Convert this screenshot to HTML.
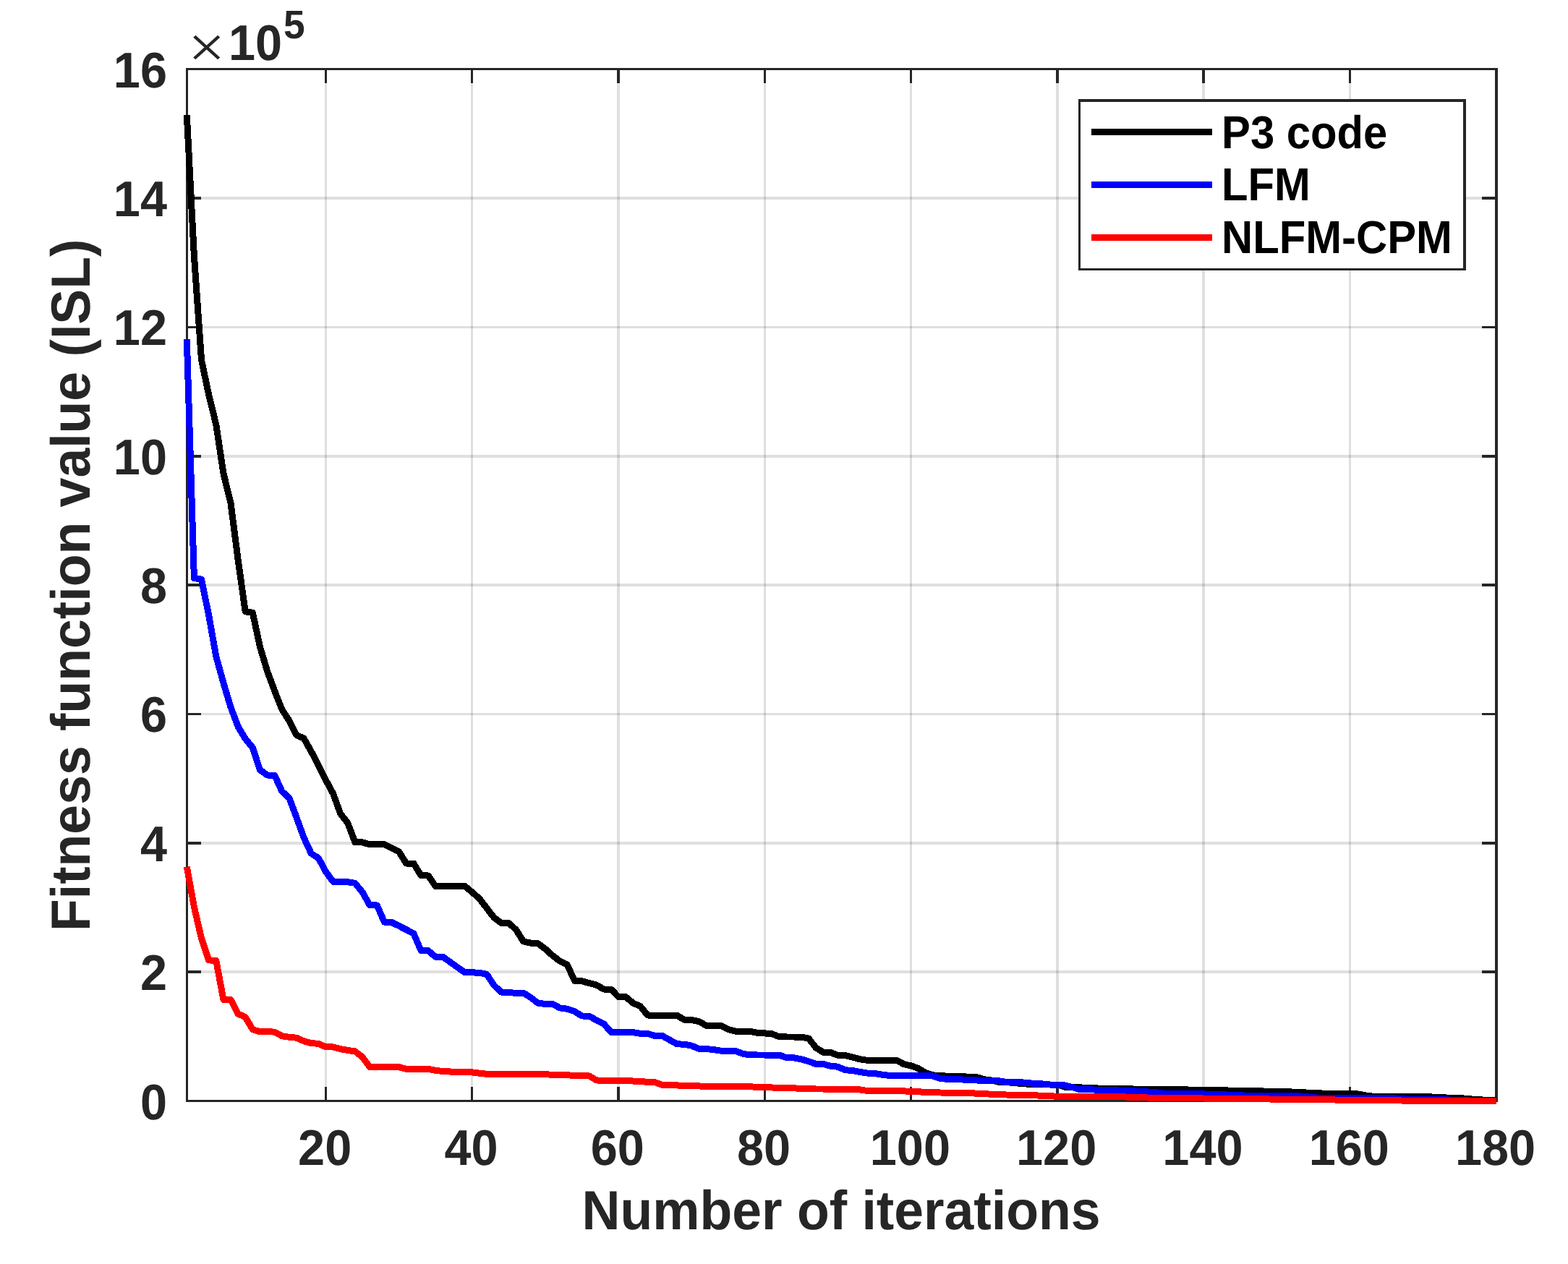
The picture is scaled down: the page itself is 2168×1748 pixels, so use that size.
<!DOCTYPE html>
<html lang="en">
<head>
<meta charset="utf-8">
<title>Fitness function value (ISL) vs number of iterations</title>
<style>
html,body{margin:0;padding:0;background:#fff;}
body{width:2168px;height:1748px;overflow:hidden;}
svg{display:block;}
text{font-family:"Liberation Sans", Arial, Helvetica, sans-serif;font-weight:bold;fill:#262626;text-rendering:geometricPrecision;}
.tk{font-size:66.67px;}
.lb{font-size:73.33px;}
.lg{font-size:59.8px;fill:#000;}
</style>
</head>
<body>
<svg width="2168" height="1748" viewBox="0 0 2168 1748" role="img" aria-label="Fitness function value (ISL) versus number of iterations for P3 code, LFM and NLFM-CPM">
<rect x="0" y="0" width="2168" height="1748" fill="#fff"/>
<g fill="#262626" fill-opacity="0.15" shape-rendering="crispEdges">
<rect x="449" y="97" width="3" height="1424"/>
<rect x="651" y="97" width="3" height="1424"/>
<rect x="853" y="97" width="4" height="1424"/>
<rect x="1056" y="97" width="3" height="1424"/>
<rect x="1258" y="97" width="3" height="1424"/>
<rect x="1460" y="97" width="4" height="1424"/>
<rect x="1662" y="97" width="4" height="1424"/>
<rect x="1865" y="97" width="3" height="1424"/>
<rect x="260" y="1342" width="1807" height="4"/>
<rect x="260" y="1164" width="1807" height="4"/>
<rect x="260" y="986" width="1807" height="3"/>
<rect x="260" y="807" width="1807" height="4"/>
<rect x="260" y="629" width="1807" height="4"/>
<rect x="260" y="451" width="1807" height="3"/>
<rect x="260" y="272" width="1807" height="4"/>
</g>
<g fill="#262626" shape-rendering="crispEdges">
<rect x="257" y="94" width="3" height="1430"/>
<rect x="2067" y="94" width="4" height="1430"/>
<rect x="257" y="94" width="1814" height="3"/>
<rect x="257" y="1521" width="1814" height="3"/>
<rect x="449" y="1503" width="3" height="18"/>
<rect x="449" y="97" width="3" height="18"/>
<rect x="651" y="1503" width="3" height="18"/>
<rect x="651" y="97" width="3" height="18"/>
<rect x="853" y="1503" width="4" height="18"/>
<rect x="853" y="97" width="4" height="18"/>
<rect x="1056" y="1503" width="3" height="18"/>
<rect x="1056" y="97" width="3" height="18"/>
<rect x="1258" y="1503" width="3" height="18"/>
<rect x="1258" y="97" width="3" height="18"/>
<rect x="1460" y="1503" width="4" height="18"/>
<rect x="1460" y="97" width="4" height="18"/>
<rect x="1662" y="1503" width="4" height="18"/>
<rect x="1662" y="97" width="4" height="18"/>
<rect x="1865" y="1503" width="3" height="18"/>
<rect x="1865" y="97" width="3" height="18"/>
<rect x="260" y="1342" width="18" height="4"/>
<rect x="2049" y="1342" width="18" height="4"/>
<rect x="260" y="1164" width="18" height="4"/>
<rect x="2049" y="1164" width="18" height="4"/>
<rect x="260" y="986" width="18" height="3"/>
<rect x="2049" y="986" width="18" height="3"/>
<rect x="260" y="807" width="18" height="4"/>
<rect x="2049" y="807" width="18" height="4"/>
<rect x="260" y="629" width="18" height="4"/>
<rect x="2049" y="629" width="18" height="4"/>
<rect x="260" y="451" width="18" height="3"/>
<rect x="2049" y="451" width="18" height="3"/>
<rect x="260" y="272" width="18" height="4"/>
<rect x="2049" y="272" width="18" height="4"/>
</g>
<g fill="none" stroke-width="9.0" stroke-linejoin="round" stroke-linecap="butt" shape-rendering="crispEdges">
<polyline stroke="#000000" points="258.3,158.9 268.4,354.0 278.5,497.5 288.6,545.7 298.8,587.3 308.9,654.4 319.0,695.6 329.1,773.9 339.2,845.8 349.3,847.3 359.4,894.3 369.6,928.4 379.7,955.5 389.8,981.1 399.9,996.7 410.0,1016.6 420.1,1021.1 430.2,1039.0 440.4,1058.6 450.5,1078.8 460.6,1097.5 470.7,1125.2 480.8,1138.2 490.9,1164.7 501.1,1164.9 511.2,1167.8 521.3,1167.8 531.4,1167.8 541.5,1172.9 551.6,1177.9 561.7,1194.0 571.9,1194.0 582.0,1210.7 592.1,1211.0 602.2,1225.5 612.3,1225.5 622.4,1225.5 632.5,1225.5 642.7,1225.5 652.8,1233.8 662.9,1242.8 673.0,1255.9 683.1,1269.0 693.2,1276.5 703.4,1276.5 713.5,1285.7 723.6,1301.9 733.7,1304.1 743.8,1304.7 753.9,1312.3 764.0,1321.4 774.2,1329.2 784.3,1334.2 794.4,1356.3 804.5,1356.7 814.6,1359.6 824.7,1362.1 834.8,1368.0 845.0,1368.2 855.1,1378.6 865.2,1378.6 875.3,1387.2 885.4,1391.6 895.5,1404.0 905.6,1404.2 915.8,1404.2 925.9,1404.2 936.0,1404.2 946.1,1410.2 956.2,1410.4 966.3,1412.6 976.5,1418.2 986.6,1418.3 996.7,1418.3 1006.8,1423.5 1016.9,1426.2 1027.0,1426.3 1037.1,1426.4 1047.2,1428.3 1057.4,1428.9 1067.5,1429.8 1077.6,1433.8 1087.7,1434.0 1097.8,1434.0 1107.9,1434.0 1118.1,1436.1 1128.2,1449.0 1138.3,1455.3 1148.4,1455.5 1158.5,1459.4 1168.6,1459.5 1178.8,1462.0 1188.9,1464.8 1199.0,1466.3 1209.1,1466.3 1219.2,1466.3 1229.3,1466.3 1239.4,1466.3 1249.5,1471.5 1259.7,1473.9 1269.8,1477.6 1279.9,1483.6 1290.0,1486.9 1300.1,1487.4 1310.2,1488.3 1320.3,1488.7 1330.5,1488.8 1340.6,1489.2 1350.7,1489.7 1360.8,1492.7 1370.9,1494.1 1381.0,1496.3 1391.2,1496.6 1401.3,1497.4 1411.4,1498.4 1421.5,1499.2 1431.6,1499.3 1441.7,1499.5 1451.8,1500.0 1462.0,1500.0 1472.1,1503.1 1482.2,1503.4 1492.3,1503.9 1502.4,1504.2 1512.5,1504.5 1522.7,1505.5 1532.8,1505.7 1542.9,1505.9 1553.0,1505.9 1563.1,1505.9 1573.2,1506.2 1583.3,1506.5 1593.5,1506.5 1603.6,1506.5 1613.7,1506.5 1623.8,1506.5 1633.9,1506.5 1644.0,1507.1 1654.1,1507.7 1664.3,1507.7 1674.4,1507.7 1684.5,1507.7 1694.6,1507.7 1704.7,1508.7 1714.8,1508.8 1725.0,1508.8 1735.1,1508.9 1745.2,1508.9 1755.3,1509.8 1765.4,1509.9 1775.5,1509.9 1785.6,1510.0 1795.8,1510.9 1805.9,1511.0 1816.0,1511.1 1826.1,1511.9 1836.2,1512.6 1846.3,1512.8 1856.4,1512.8 1866.5,1512.8 1876.7,1512.8 1886.8,1514.7 1896.9,1516.0 1907.0,1516.6 1917.1,1516.8 1927.2,1516.8 1937.4,1516.8 1947.5,1516.8 1957.6,1516.8 1967.7,1516.8 1977.8,1516.8 1987.9,1517.8 1998.0,1517.9 2008.2,1518.7 2018.3,1518.8 2028.4,1519.2 2038.5,1520.6 2048.6,1520.9 2058.7,1521.7 2068.8,1521.7"/>
<polyline stroke="#0000ff" points="258.3,468.9 268.4,799.6 278.5,801.2 288.6,850.5 298.8,907.8 308.9,944.3 319.0,978.0 329.1,1004.8 339.2,1021.6 349.3,1033.9 359.4,1064.6 369.6,1072.0 379.7,1072.2 389.8,1094.3 399.9,1103.6 410.0,1130.5 420.1,1158.4 430.2,1180.1 440.4,1186.8 450.5,1205.5 460.6,1219.3 470.7,1219.5 480.8,1219.7 490.9,1221.3 501.1,1233.8 511.2,1251.7 521.3,1252.0 531.4,1275.2 541.5,1275.5 551.6,1280.5 561.7,1285.6 571.9,1290.8 582.0,1314.5 592.1,1314.7 602.2,1323.3 612.3,1323.3 622.4,1330.4 632.5,1337.7 642.7,1344.8 652.8,1344.9 662.9,1345.2 673.0,1347.3 683.1,1362.7 693.2,1372.1 703.4,1372.9 713.5,1373.1 723.6,1373.1 733.7,1379.4 743.8,1387.2 753.9,1388.4 764.0,1388.5 774.2,1393.9 784.3,1395.3 794.4,1398.7 804.5,1405.0 814.6,1405.1 824.7,1410.9 834.8,1415.9 845.0,1427.4 855.1,1427.4 865.2,1427.4 875.3,1427.6 885.4,1429.3 895.5,1429.5 905.6,1432.5 915.8,1432.5 925.9,1438.2 936.0,1443.8 946.1,1444.2 956.2,1446.2 966.3,1450.3 976.5,1450.5 986.6,1451.6 996.7,1453.1 1006.8,1453.4 1016.9,1453.4 1027.0,1457.2 1037.1,1458.9 1047.2,1459.0 1057.4,1459.0 1067.5,1459.0 1077.6,1459.0 1087.7,1462.8 1097.8,1462.9 1107.9,1464.8 1118.1,1467.8 1128.2,1471.5 1138.3,1471.5 1148.4,1474.3 1158.5,1475.2 1168.6,1479.8 1178.8,1480.4 1188.9,1482.4 1199.0,1484.0 1209.1,1484.5 1219.2,1486.1 1229.3,1487.4 1239.4,1487.4 1249.5,1487.4 1259.7,1487.4 1269.8,1487.4 1279.9,1487.4 1290.0,1488.0 1300.1,1491.5 1310.2,1492.3 1320.3,1492.5 1330.5,1493.0 1340.6,1493.3 1350.7,1494.0 1360.8,1494.3 1370.9,1494.5 1381.0,1494.7 1391.2,1496.4 1401.3,1496.6 1411.4,1496.7 1421.5,1497.6 1431.6,1498.5 1441.7,1499.0 1451.8,1500.0 1462.0,1500.3 1472.1,1500.9 1482.2,1503.3 1492.3,1506.5 1502.4,1506.9 1512.5,1507.0 1522.7,1507.3 1532.8,1507.6 1542.9,1507.9 1553.0,1508.2 1563.1,1508.7 1573.2,1509.2 1583.3,1509.8 1593.5,1510.3 1603.6,1511.3 1613.7,1512.6 1623.8,1512.7 1633.9,1512.7 1644.0,1512.7 1654.1,1512.7 1664.3,1512.9 1674.4,1513.6 1684.5,1513.8 1694.6,1513.8 1704.7,1514.6 1714.8,1514.9 1725.0,1515.1 1735.1,1515.2 1745.2,1515.7 1755.3,1515.8 1765.4,1515.8 1775.5,1515.8 1785.6,1515.8 1795.8,1515.9 1805.9,1516.5 1816.0,1517.7 1826.1,1518.2 1836.2,1518.4 1846.3,1518.4 1856.4,1518.4 1866.5,1518.4 1876.7,1518.4 1886.8,1518.5 1896.9,1518.5 1907.0,1518.6 1917.1,1518.6 1927.2,1518.7 1937.4,1519.5 1947.5,1520.4 1957.6,1520.5 1967.7,1520.5 1977.8,1520.5 1987.9,1520.6 1998.0,1520.6 2008.2,1521.5 2018.3,1521.7 2028.4,1521.9 2038.5,1522.2 2048.6,1522.4 2058.7,1522.5 2068.8,1522.6"/>
<polyline stroke="#ff0000" points="258.3,1198.7 268.4,1254.2 278.5,1297.7 288.6,1327.9 298.8,1328.4 308.9,1382.3 319.0,1382.5 329.1,1402.0 339.2,1406.5 349.3,1423.7 359.4,1426.7 369.6,1426.7 379.7,1427.1 389.8,1432.7 399.9,1434.3 410.0,1435.2 420.1,1439.7 430.2,1442.7 440.4,1443.2 450.5,1447.9 460.6,1448.0 470.7,1450.6 480.8,1452.5 490.9,1453.8 501.1,1461.9 511.2,1475.6 521.3,1475.6 531.4,1475.6 541.5,1475.6 551.6,1475.6 561.7,1478.4 571.9,1478.4 582.0,1478.4 592.1,1478.4 602.2,1480.3 612.3,1481.5 622.4,1482.0 632.5,1482.8 642.7,1482.9 652.8,1482.9 662.9,1484.2 673.0,1485.3 683.1,1485.5 693.2,1485.5 703.4,1485.5 713.5,1485.5 723.6,1485.5 733.7,1485.5 743.8,1485.5 753.9,1485.5 764.0,1486.5 774.2,1486.5 784.3,1486.7 794.4,1487.6 804.5,1487.8 814.6,1487.9 824.7,1493.9 834.8,1494.5 845.0,1494.7 855.1,1494.7 865.2,1494.7 875.3,1495.0 885.4,1495.7 895.5,1496.2 905.6,1496.7 915.8,1500.5 925.9,1500.6 936.0,1500.9 946.1,1501.6 956.2,1501.6 966.3,1501.9 976.5,1502.6 986.6,1502.6 996.7,1502.6 1006.8,1502.6 1016.9,1502.8 1027.0,1502.8 1037.1,1502.8 1047.2,1503.3 1057.4,1503.5 1067.5,1504.0 1077.6,1504.5 1087.7,1504.5 1097.8,1504.8 1107.9,1505.5 1118.1,1505.9 1128.2,1506.0 1138.3,1506.0 1148.4,1506.0 1158.5,1506.0 1168.6,1506.0 1178.8,1506.4 1188.9,1506.9 1199.0,1508.5 1209.1,1508.6 1219.2,1508.6 1229.3,1508.6 1239.4,1508.6 1249.5,1508.9 1259.7,1509.4 1269.8,1509.6 1279.9,1510.7 1290.0,1510.9 1300.1,1511.0 1310.2,1511.2 1320.3,1511.3 1330.5,1511.5 1340.6,1511.8 1350.7,1512.1 1360.8,1512.7 1370.9,1513.2 1381.0,1513.7 1391.2,1514.0 1401.3,1514.3 1411.4,1514.6 1421.5,1514.8 1431.6,1514.9 1441.7,1515.2 1451.8,1515.6 1462.0,1516.4 1472.1,1516.5 1482.2,1516.6 1492.3,1516.7 1502.4,1516.8 1512.5,1516.9 1522.7,1516.9 1532.8,1516.9 1542.9,1516.9 1553.0,1516.9 1563.1,1517.2 1573.2,1517.6 1583.3,1517.9 1593.5,1518.2 1603.6,1518.4 1613.7,1518.5 1623.8,1518.6 1633.9,1518.7 1644.0,1518.8 1654.1,1518.9 1664.3,1519.0 1674.4,1519.2 1684.5,1519.2 1694.6,1519.3 1704.7,1519.4 1714.8,1519.5 1725.0,1519.6 1735.1,1519.8 1745.2,1519.9 1755.3,1520.0 1765.4,1520.2 1775.5,1520.3 1785.6,1520.5 1795.8,1520.5 1805.9,1520.6 1816.0,1520.6 1826.1,1520.7 1836.2,1520.7 1846.3,1521.0 1856.4,1521.5 1866.5,1521.5 1876.7,1521.5 1886.8,1521.5 1896.9,1521.5 1907.0,1521.5 1917.1,1521.5 1927.2,1521.6 1937.4,1522.0 1947.5,1522.2 1957.6,1522.4 1967.7,1522.5 1977.8,1522.5 1987.9,1522.5 1998.0,1522.5 2008.2,1522.5 2018.3,1522.5 2028.4,1522.5 2038.5,1522.5 2048.6,1522.5 2058.7,1522.5 2068.8,1522.5"/>
</g>
<text class="tk" text-anchor="middle" transform="translate(449.18 1611.00) scale(1 1.0400)">20</text>
<text class="tk" text-anchor="middle" transform="translate(651.48 1611.00) scale(1 1.0400)">40</text>
<text class="tk" text-anchor="middle" transform="translate(853.77 1611.00) scale(1 1.0400)">60</text>
<text class="tk" text-anchor="middle" transform="translate(1056.07 1611.00) scale(1 1.0400)">80</text>
<text class="tk" text-anchor="middle" transform="translate(1258.37 1611.00) scale(1 1.0400)">100</text>
<text class="tk" text-anchor="middle" transform="translate(1460.66 1611.00) scale(1 1.0400)">120</text>
<text class="tk" text-anchor="middle" transform="translate(1662.96 1611.00) scale(1 1.0400)">140</text>
<text class="tk" text-anchor="middle" transform="translate(1865.25 1611.00) scale(1 1.0400)">160</text>
<text class="tk" text-anchor="middle" transform="translate(2067.55 1611.00) scale(1 1.0400)">180</text>
<text class="tk" text-anchor="end" transform="translate(231.00 1547.50) scale(1 1.0400)">0</text>
<text class="tk" text-anchor="end" transform="translate(231.00 1369.12) scale(1 1.0400)">2</text>
<text class="tk" text-anchor="end" transform="translate(231.00 1190.75) scale(1 1.0400)">4</text>
<text class="tk" text-anchor="end" transform="translate(231.00 1012.38) scale(1 1.0400)">6</text>
<text class="tk" text-anchor="end" transform="translate(231.00 834.00) scale(1 1.0400)">8</text>
<text class="tk" text-anchor="end" transform="translate(231.00 655.62) scale(1 1.0400)">10</text>
<text class="tk" text-anchor="end" transform="translate(231.00 477.25) scale(1 1.0400)">12</text>
<text class="tk" text-anchor="end" transform="translate(231.00 298.88) scale(1 1.0400)">14</text>
<text class="tk" text-anchor="end" transform="translate(231.00 120.50) scale(1 1.0400)">16</text>
<text text-anchor="start" transform="translate(260.00 93.00) scale(1.1030 1.0000)" style="font-family:&quot;Liberation Serif&quot;,serif;font-weight:normal;font-size:82.5px">×</text>
<text class="tk" text-anchor="start" transform="translate(316.00 82.50) scale(1 1.0400)">10</text>
<text class="tk" text-anchor="start" transform="translate(392.00 52.50) scale(1 1.0400)" style="font-size:53.3px">5</text>
<text class="lb" text-anchor="middle" transform="translate(1163.00 1700.00) scale(1 1.0400)">Number of iterations</text>
<text class="lb" text-anchor="middle" transform="translate(124.00 809.30) rotate(-90) scale(1 1.0400)">Fitness function value (ISL)</text>
<rect x="1491" y="137" width="536" height="237" fill="#fff"/>
<g fill="#262626" shape-rendering="crispEdges">
<rect x="1491" y="137" width="3" height="237"/>
<rect x="2023" y="137" width="4" height="237"/>
<rect x="1491" y="137" width="536" height="4"/>
<rect x="1491" y="371" width="536" height="3"/>
</g>
<g shape-rendering="crispEdges">
<rect x="1509" y="178" width="167" height="9" fill="#000000"/>
<rect x="1509" y="251" width="167" height="9" fill="#0000ff"/>
<rect x="1509" y="324" width="167" height="9" fill="#ff0000"/>
</g>
<text class="lg" text-anchor="start" transform="translate(1689.00 204.85) scale(1 1.0675)">P3 code</text>
<text class="lg" text-anchor="start" transform="translate(1689.00 277.35) scale(1 1.0675)">LFM</text>
<text class="lg" text-anchor="start" transform="translate(1689.00 349.85) scale(1 1.0675)">NLFM-CPM</text>
</svg>
</body>
</html>
